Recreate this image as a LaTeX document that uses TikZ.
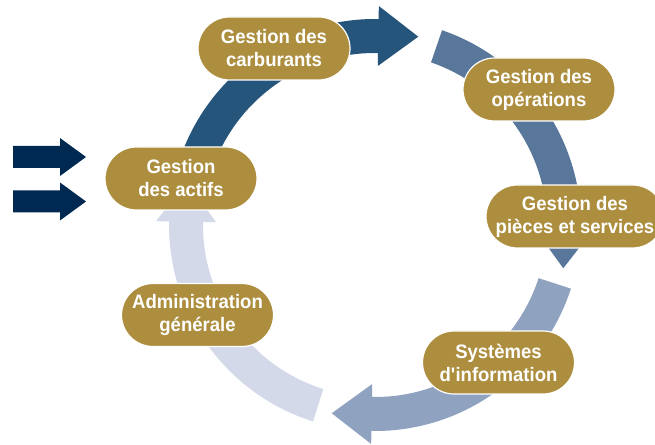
\documentclass[tikz,border=0pt]{standalone}
\usepackage{fontspec}
\setmainfont[FakeStretch=0.95]{Liberation Sans}
\usepackage{xcolor}
\usepackage{tikz}
\usetikzlibrary{calc}

\definecolor{stagegold}{RGB}{172,142,62}
\definecolor{ringA}{RGB}{38,85,124}
\definecolor{ringB}{RGB}{89,119,154}
\definecolor{ringC}{RGB}{143,163,193}
\definecolor{ringD}{RGB}{211,217,232}
\definecolor{feednavy}{RGB}{0,41,82}

% curved ring segment with a flat tip, running clockwise round (c)
% #1 start angle, #2 end angle, #3 colour
\newcommand{\ringarrow}[3]{%
  \fill[#3] ($(c)+(#1:206)$) arc[start angle=#1, end angle=#2, radius=206]
    -- ($(c)+(#2:219)$) -- ($(c)+(#2:189)+(#2-90:40)$) -- ($(c)+(#2:159)$)
    -- ($(c)+(#2:172)$) arc[start angle=#2, end angle=#1, radius=172] -- cycle;}

% straight block arrow pointing right, tail at #1
\newcommand{\feedarrow}[1]{%
  \fill[feednavy] (#1) ++(0,-11) -- ++(47,0) -- ++(0,-8) -- ++(26,19)
    -- ++(-26,19) -- ++(0,-8) -- ++(-47,0) -- cycle;}

\begin{document}
\begin{tikzpicture}[x=1pt, y=1pt]
    % Define styles
    \tikzset{
        stage/.style={rectangle, rounded corners=31.5pt, fill=stagegold, draw=white,
            line width=1.2pt, minimum width=152pt, minimum height=63pt, inner sep=0pt,
            align=center, text=white, font=\bfseries\fontsize{19.5}{23}\selectfont}
    }
    \useasboundingbox (0,0) rectangle (655,444);
    \coordinate (c) at (375,219);

    % Ring
    \ringarrow{172}{89}{ringA}
    \ringarrow{71}{-1}{ringB}
    \ringarrow{-18}{-91}{ringC}
    \ringarrow{252.5}{179}{ringD}

    % Inputs
    \coordinate (feed1) at (13,287);
    \coordinate (feed2) at (13,242.5);
    \feedarrow{feed1}
    \feedarrow{feed2}

    % Nodes
    \node[stage] (actifs) at (181,265.5) {Gestion\\des actifs};
    \node[stage] (carburants) at (274,395.5) {Gestion des\\carburants};
    \node[stage] (operations) at (539,354.5) {Gestion des\\opérations};
    \node[stage, minimum width=178pt] (pieces) at (575,227.5) {Gestion des\\pièces et services};
    \node[stage] (systemes) at (498.5,81.5) {Systèmes\\d\textquotesingle information};
    \node[stage] (admin) at (197.5,129) {Administration\\générale};
\end{tikzpicture}
\end{document}
